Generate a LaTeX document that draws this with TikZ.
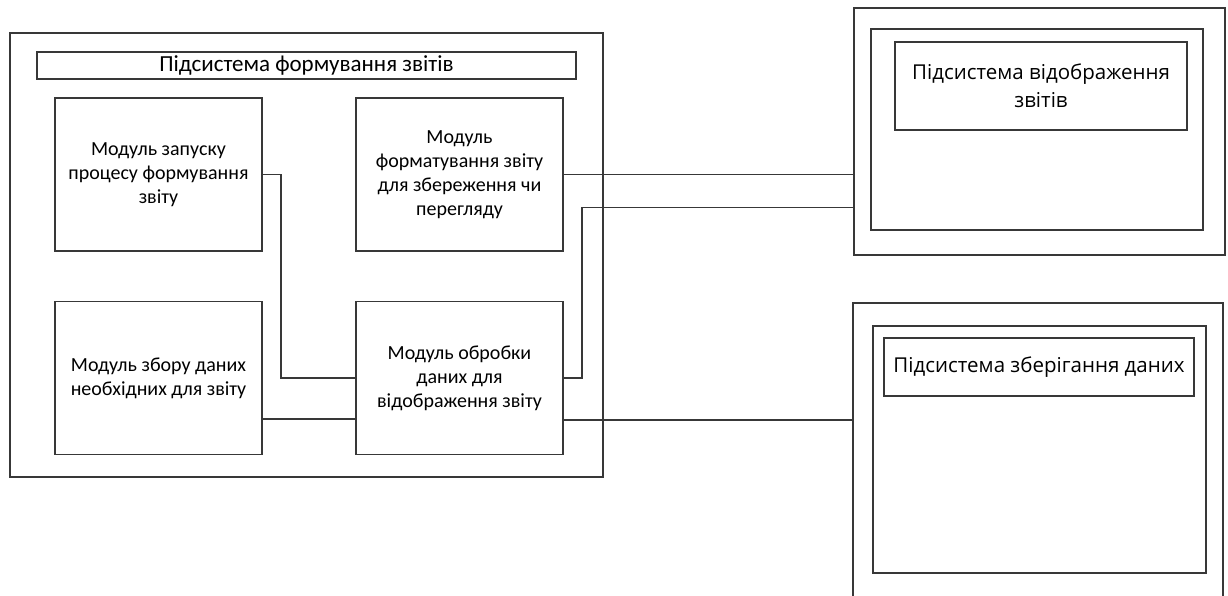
\documentclass[tikz,border=0pt]{standalone}
\usepackage{fontspec}
\setmainfont{Carlito}
\newfontfamily\subfont{Open Sans}
\begin{document}
\begin{tikzpicture}[x=1pt,y=-1pt,
  frame/.style={draw=black!78,line width=1.6pt,rectangle,inner sep=0pt},
  modbox/.style={frame,minimum width=207pt,minimum height=153pt,align=center,
    font=\fontsize{20}{24}\selectfont},
  subtitle/.style={frame,align=center,font=\subfont\fontsize{20.5}{28}\selectfont},
  wire/.style={draw=black!78,line width=1.6pt}]
\useasboundingbox (0,0) rectangle (1228,595);
\clip (0,0) rectangle (1228,595);

% report generation subsystem
\node[frame,minimum width=593pt,minimum height=444pt] (gen) at (306.5,255) {};
\node[frame,minimum width=539pt,minimum height=27pt,font=\fontsize{23}{24}\selectfont] (gentitle) at (306.5,65.5) {Підсистема формування звітів};
\node[modbox] (start) at (158.5,174.5) {Модуль запуску\\процесу формування\\звіту};
\node[modbox] (format) at (459.5,174.5) {Модуль\\форматування звіту\\для збереження чи\\перегляду};
\node[modbox] (collect) at (158.5,378) {Модуль збору даних\\необхідних для звіту};
\node[modbox] (proc) at (459.5,378) {Модуль обробки\\даних для\\відображення звіту};

% display subsystem
\node[frame,minimum width=371pt,minimum height=247pt] (disp) at (1039.5,131.5) {};
\node[frame,minimum width=332pt,minimum height=201pt] (dispin) at (1037,129.5) {};
\node[subtitle,minimum width=292pt,minimum height=88pt] (disptitle) at (1041,86) {Підсистема відображення\\звітів};

% data storage subsystem (runs past the lower edge)
\node[frame,minimum width=370pt,minimum height=337pt] (store) at (1038,471.5) {};
\node[frame,minimum width=333pt,minimum height=247pt] (storein) at (1039.5,449.5) {};
\node[subtitle,minimum width=310pt,minimum height=58pt] (storetitle) at (1039,367) {Підсистема зберігання даних};

% connections
\draw[wire] (start.east) -- ++(18,0) |- (proc.west);
\draw[wire] ([yshift=-41pt]collect.east) -- ([yshift=-41pt]proc.west);
\draw[wire] (format.east) -- (format.east -| disp.west);
\draw[wire] (proc.east) -- ++(18,0) |- ([yshift=-76pt]disp.west);
\coordinate (procout) at ([yshift=-42pt]proc.east);
\draw[wire] (procout) -- (procout -| store.west);
\end{tikzpicture}
\end{document}
